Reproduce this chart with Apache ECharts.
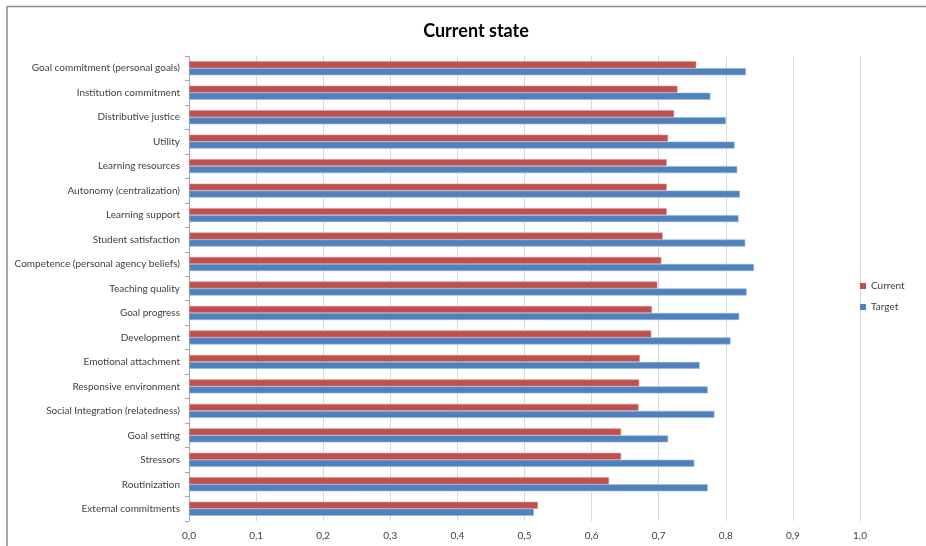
<!DOCTYPE html>
<html>
<head>
<meta charset="utf-8">
<script src="https://cdn.jsdelivr.net/npm/echarts@6/dist/echarts.min.js"></script>
<style>
  html, body { margin: 0; padding: 0; background: #fff; }
  #chart { width: 926px; height: 546px; }
</style>
</head>
<body>
<div id="chart"></div>
<script>
// Dimensions, listed top to bottom as they appear on the chart
const categories = [
  'Goal commitment (personal goals)',
  'Institution commitment',
  'Distributive justice',
  'Utility',
  'Learning resources',
  'Autonomy (centralization)',
  'Learning support',
  'Student satisfaction',
  'Competence (personal agency beliefs)',
  'Teaching quality',
  'Goal progress',
  'Development',
  'Emotional attachment',
  'Responsive environment',
  'Social Integration (relatedness)',
  'Goal setting',
  'Stressors',
  'Routinization',
  'External commitments'
];

const currentValues = [0.756, 0.728, 0.723, 0.714, 0.712, 0.712, 0.712, 0.706, 0.704, 0.698,
  0.690, 0.689, 0.672, 0.671, 0.670, 0.644, 0.644, 0.626, 0.520];

const targetValues = [0.830, 0.777, 0.800, 0.813, 0.817, 0.821, 0.819, 0.829, 0.842, 0.831,
  0.820, 0.807, 0.761, 0.773, 0.783, 0.714, 0.753, 0.773, 0.514];

const xTicks = [0, 0.1, 0.2, 0.3, 0.4, 0.5, 0.6, 0.7, 0.8, 0.9, 1.0];

const labelFont = '"Lato", "Liberation Sans", sans-serif';

const chart = echarts.init(document.getElementById('chart'));

chart.setOption({
  animation: false,
  backgroundColor: '#ffffff',
  title: {
    text: 'Current state',
    left: 471,
    top: 17,
    textAlign: 'center',
    textStyle: {
      fontFamily: '"Lato", "Open Sans", sans-serif',
      fontSize: 18,
      fontWeight: 'bold',
      color: '#000'
    }
  },
  legend: {
    orient: 'vertical',
    left: 855,
    top: 276,
    itemWidth: 6,
    itemHeight: 6,
    itemGap: 11,
    icon: 'rect',
    itemStyle: { borderWidth: 0 },
    textStyle: { fontFamily: labelFont, fontSize: 10, color: '#404040' },
    data: ['Current', 'Target']
  },
  grid: { left: 189, right: 66, top: 56, bottom: 25, outerBoundsMode: 'none', containLabel: false },
  xAxis: {
    type: 'value',
    min: 0,
    max: 1,
    interval: 0.1,
    axisLine: { show: false },
    axisTick: { show: false },
    splitLine: { show: true, lineStyle: { color: '#d9d9d9', width: 1 } },
    axisLabel: {
      margin: 10,
      fontFamily: labelFont,
      fontSize: 10,
      color: '#404040',
      formatter: v => {
        const t = xTicks.find(x => Math.abs(x - v) < 1e-9);
        return (t === undefined ? v : t).toFixed(1).replace('.', ',');
      }
    }
  },
  yAxis: {
    type: 'category',
    data: categories,
    inverse: true,
    axisLine: { show: true, lineStyle: { color: '#a6a6a6' } },
    axisTick: { show: true, inside: false, length: 4, lineStyle: { color: '#a6a6a6' } },
    axisLabel: {
      margin: 9,
      fontFamily: labelFont,
      fontSize: 10,
      color: '#404040'
    }
  },
  series: [
    {
      name: 'Current',
      type: 'bar',
      data: currentValues,
      barWidth: 7,
      barGap: '0%',
      itemStyle: { color: '#C0504D', borderColor: '#d9928f', borderWidth: 0.6 }
    },
    {
      name: 'Target',
      type: 'bar',
      data: targetValues,
      barWidth: 7,
      barGap: '0%',
      itemStyle: { color: '#4F81BD', borderColor: '#93b3dc', borderWidth: 0.6 }
    }
  ],
  graphic: [
    {
      type: 'polyline',
      silent: true,
      shape: { points: [[7, 560], [7, 6.5], [940, 6.5]] },
      style: { stroke: '#8c8c8c', lineWidth: 1.5, fill: null }
    }
  ]
});
</script>
</body>
</html>
